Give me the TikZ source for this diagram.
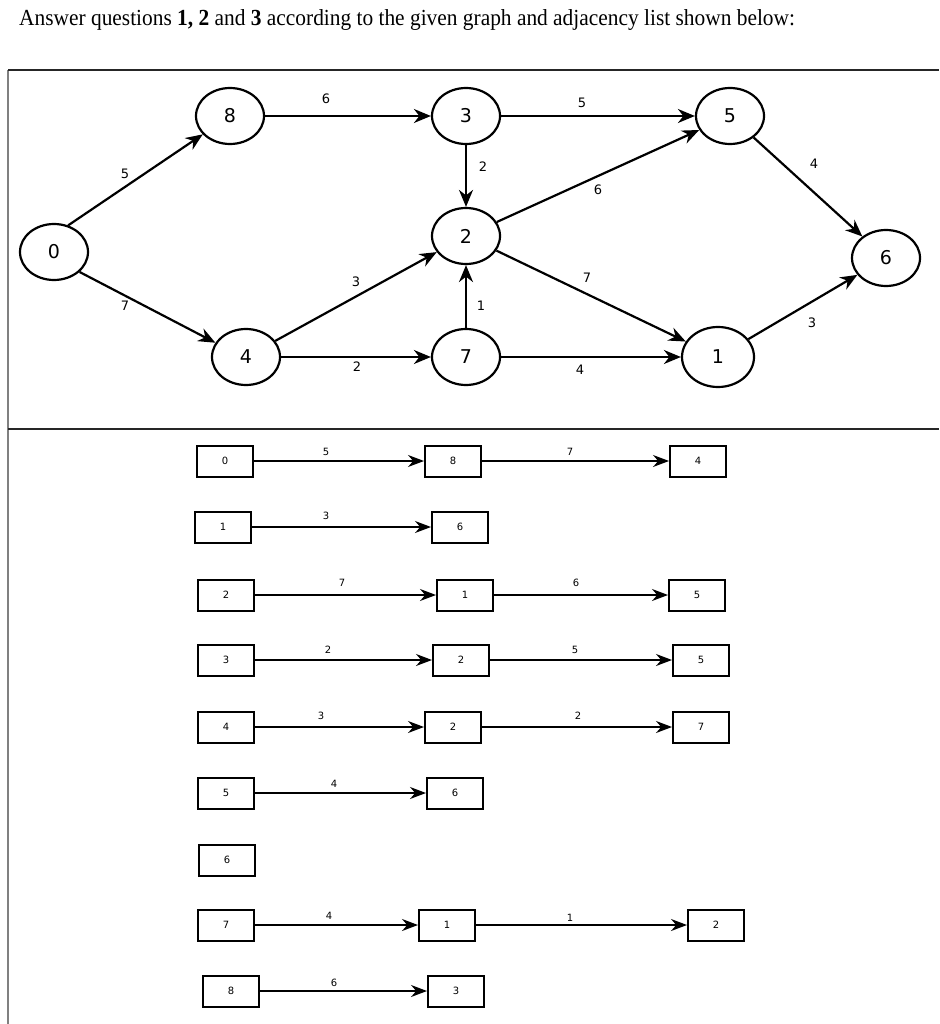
\documentclass[tikz,border=0pt]{standalone}
\usepackage{fontspec}
\setmainfont{Liberation Serif}
\newfontfamily\dejavu{DejaVu Sans}
\usetikzlibrary{shapes.geometric,arrows.meta}
\begin{document}
\begin{tikzpicture}[x=1pt,y=-1pt,
 gnode/.style={ellipse,draw,line width=2.2pt,minimum width=68pt,minimum height=56pt,inner sep=0pt,font=\dejavu\fontsize{19}{19}\selectfont},
 gedge/.style={line width=2.2pt,-{Stealth[length=17pt,width=14pt]}},
 elab/.style={font=\dejavu\fontsize{13}{13}\selectfont,inner sep=0pt},
 lbox/.style={draw,line width=2pt,minimum width=56pt,minimum height=31pt,inner sep=0pt,font=\dejavu\fontsize{10}{10}\selectfont},
 ledge/.style={line width=1.3pt,-{Stealth[length=16pt,width=12pt]}},
 llab/.style={font=\dejavu\fontsize{10}{10}\selectfont,inner sep=0pt},
 frame/.style={line width=1.5pt,black!85},
]
\useasboundingbox (0,0) rectangle (939,1024);
% title
\node[anchor=base west,inner sep=0pt,font=\fontsize{23}{23}\selectfont] (title) at (19,26)
 {\scalebox{0.93}[1]{Answer questions \textbf{1, 2} and \textbf{3} according to the given graph and adjacency list shown below:}};
% frame
\draw[line width=2pt,black!50] (8,70) -- (8,1024);
\draw[frame] (8,70) -- (939,70);
\draw[frame] (8,429) -- (939,429);
% graph nodes
\node[gnode] (n0) at (54,252) {0};
\node[gnode] (n8) at (230,116) {8};
\node[gnode] (n3) at (466,116) {3};
\node[gnode] (n2) at (466,236) {2};
\node[gnode] (n4) at (246,357) {4};
\node[gnode] (n7) at (466,357) {7};
\node[gnode] (n5) at (730,116) {5};
\node[gnode] (n6) at (886,258) {6};
\node[gnode,minimum width=72pt,minimum height=60pt] (n1) at (718,357) {1};
% graph edges
\draw[gedge] (n0.62) -- (n8.214);
\draw[gedge] (n0.-38) -- (n4.155);
\draw[gedge] (n8) -- (n3);
\draw[gedge] (n3) -- (n5);
\draw[gedge] (n3) -- (n2);
\draw[gedge] (n2) -- (n5);
\draw[gedge] (n5) -- (n6);
\draw[gedge] (n4) -- (n2);
\draw[gedge] (n2) -- (n1);
\draw[gedge] (n7) -- (n2);
\draw[gedge] (n4) -- (n7);
\draw[gedge] (n7) -- (n1);
\draw[gedge] (n1) -- (n6);
% edge labels
\node[elab] (e08) at (125,174) {5};
\node[elab] (e04) at (125,306) {7};
\node[elab] (e83) at (326,99) {6};
\node[elab] (e35) at (582,103) {5};
\node[elab] (e32) at (483,167) {2};
\node[elab] (e25) at (598,190) {6};
\node[elab] (e56) at (814,164) {4};
\node[elab] (e42) at (356,282) {3};
\node[elab] (e21) at (587,278) {7};
\node[elab] (e72) at (481,306) {1};
\node[elab] (e47) at (357,367) {2};
\node[elab] (e71) at (580,370) {4};
\node[elab] (e16) at (812,323) {3};
% adjacency list
\node[lbox] (a0) at (225,461) {0};
\node[lbox] (a0b) at (453,461) {8};
\node[lbox] (a0c) at (698,461) {4};
\draw[ledge] (a0) -- (a0b);
\draw[ledge] (a0b) -- (a0c);
\node[llab] (l0a) at (326,452) {5};
\node[llab] (l0b) at (570,452) {7};

\node[lbox] (a1) at (223,527) {1};
\node[lbox] (a1b) at (460,527) {6};
\draw[ledge] (a1) -- (a1b);
\node[llab] (l1a) at (326,516) {3};

\node[lbox] (a2) at (226,595) {2};
\node[lbox] (a2b) at (465,595) {1};
\node[lbox] (a2c) at (697,595) {5};
\draw[ledge] (a2) -- (a2b);
\draw[ledge] (a2b) -- (a2c);
\node[llab] (l2a) at (342,583) {7};
\node[llab] (l2b) at (576,583) {6};

\node[lbox] (a3) at (226,660) {3};
\node[lbox] (a3b) at (461,660) {2};
\node[lbox] (a3c) at (701,660) {5};
\draw[ledge] (a3) -- (a3b);
\draw[ledge] (a3b) -- (a3c);
\node[llab] (l3a) at (328,650) {2};
\node[llab] (l3b) at (575,650) {5};

\node[lbox] (a4) at (226,727) {4};
\node[lbox] (a4b) at (453,727) {2};
\node[lbox] (a4c) at (701,727) {7};
\draw[ledge] (a4) -- (a4b);
\draw[ledge] (a4b) -- (a4c);
\node[llab] (l4a) at (321,716) {3};
\node[llab] (l4b) at (578,716) {2};

\node[lbox] (a5) at (226,793) {5};
\node[lbox] (a5b) at (455,793) {6};
\draw[ledge] (a5) -- (a5b);
\node[llab] (l5a) at (334,784) {4};

\node[lbox] (a6) at (227,860) {6};

\node[lbox] (a7) at (226,925) {7};
\node[lbox] (a7b) at (447,925) {1};
\node[lbox] (a7c) at (716,925) {2};
\draw[ledge] (a7) -- (a7b);
\draw[ledge] (a7b) -- (a7c);
\node[llab] (l7a) at (329,916) {4};
\node[llab] (l7b) at (570,918) {1};

\node[lbox] (a8) at (231,991) {8};
\node[lbox] (a8b) at (456,991) {3};
\draw[ledge] (a8) -- (a8b);
\node[llab] (l8a) at (334,983) {6};
\end{tikzpicture}
\end{document}
